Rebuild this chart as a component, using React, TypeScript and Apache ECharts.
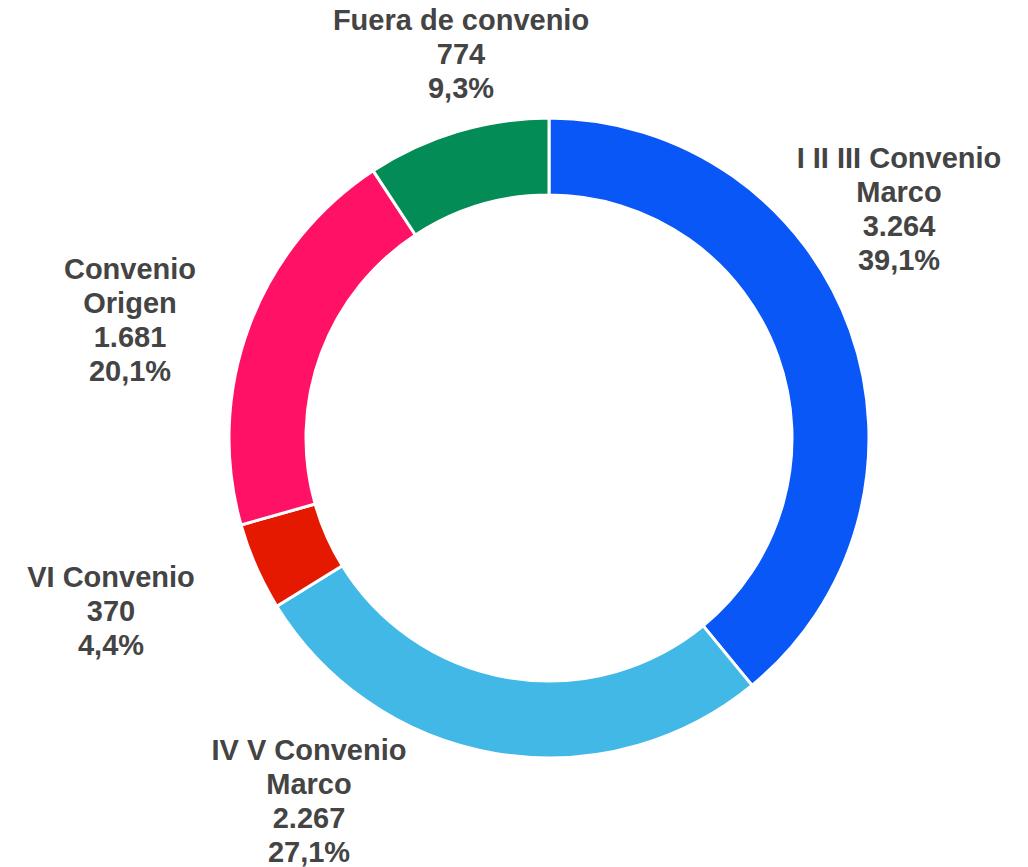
import React, { useEffect, useRef } from "react";
import * as echarts from "echarts";

const categories = [
  "I II III Convenio Marco",
  "IV V Convenio Marco",
  "VI Convenio",
  "Convenio Origen",
  "Fuera de convenio",
];
const displayNames = [
  "I II III Convenio\nMarco",
  "IV V Convenio\nMarco",
  "VI Convenio",
  "Convenio\nOrigen",
  "Fuera de convenio",
];
const values = [3264, 2267, 370, 1681, 774];
const colors = ["#0a57f7", "#42b8e6", "#e51800", "#ff1166", "#038c55"];

// label centres (page px) for each slice, matching the reference layout
const labelCentres: [number, number][] = [
  [899, 209],
  [309, 801],
  [111, 611],
  [130, 320],
  [461, 54],
];

const total = values.reduce((a, b) => a + b, 0);
const fmtInt = (v: number) => v.toString().replace(/\B(?=(\d{3})+(?!\d))/g, ".");
const fmtPct = (v: number) => ((v / total) * 100).toFixed(1).replace(".", ",") + "%";

export default function App() {
  const ref = useRef<HTMLDivElement>(null);
  useEffect(() => {
    if (!ref.current) return;
    const chart = echarts.init(ref.current, undefined, { renderer: "svg" });
    chart.setOption({
      animation: false,
      backgroundColor: "#ffffff",
      series: [
        {
          type: "pie",
          center: [549, 438],
          radius: [243, 320],
          startAngle: 90,
          clockwise: true,
          avoidLabelOverlap: false,
          itemStyle: { borderColor: "#ffffff", borderWidth: 3 },
          label: {
            show: true,
            position: "outside",
            fontFamily: "'Liberation Sans', Arial, sans-serif",
            fontWeight: "bold",
            fontSize: 29,
            lineHeight: 34,
            color: "#444444",
            align: "center",
            formatter: (p: any) =>
              `${displayNames[p.dataIndex]}\n${fmtInt(p.value)}\n${fmtPct(p.value)}`,
          },
          labelLine: { show: false },
          labelLayout: (p: any) => ({
            x: labelCentres[p.dataIndex][0],
            y: labelCentres[p.dataIndex][1],
            align: "center",
            verticalAlign: "middle",
          }),
          data: categories.map((c, i) => ({
            name: c,
            value: values[i],
            itemStyle: { color: colors[i] },
          })),
        },
      ],
    });
    return () => chart.dispose();
  }, []);
  return (
    <div
      ref={ref}
      style={{ position: "fixed", left: 0, top: 0, width: 1028, height: 867 }}
    />
  );
}
